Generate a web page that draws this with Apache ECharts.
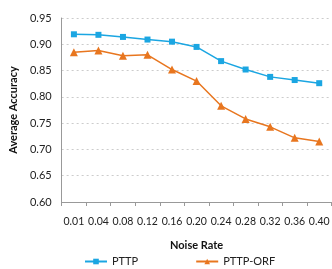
<!DOCTYPE html>
<html>
<head>
<meta charset="utf-8">
<script src="https://cdn.jsdelivr.net/npm/echarts@6/dist/echarts.min.js"></script>
<style>
html,body{margin:0;padding:0;background:#fff;}
#chart{width:332px;height:269px;}
</style>
</head>
<body>
<div id="chart"></div>
<script>
var noiseRates = ['0.01', '0.04', '0.08', '0.12', '0.16', '0.20', '0.24', '0.28', '0.32', '0.36', '0.40'];
var pttp = [0.919, 0.918, 0.914, 0.909, 0.905, 0.895, 0.868, 0.852, 0.838, 0.832, 0.826];
var pttpOrf = [0.885, 0.888, 0.878, 0.880, 0.852, 0.830, 0.783, 0.758, 0.743, 0.722, 0.715];
var yTicks = [0.60, 0.65, 0.70, 0.75, 0.80, 0.85, 0.90, 0.95];

var font = 'Lato, "Open Sans", sans-serif';
var myChart = echarts.init(document.getElementById('chart'));
var option = {
    animation: false,
    textStyle: { fontFamily: font },
    grid: { left: 58, top: 18, width: 283, height: 184 },
    legend: {
        top: 256,
        left: 84,
        padding: 0,
        itemGap: 57,
        itemWidth: 22,
        itemHeight: 7,
        textStyle: { fontSize: 11, color: '#222', fontFamily: font },
        data: ['PTTP', 'PTTP-ORF']
    },
    xAxis: {
        type: 'category',
        data: noiseRates,
        name: 'Noise Rate',
        nameLocation: 'middle',
        nameGap: 38,
        nameTextStyle: { fontWeight: 'bold', fontSize: 11, color: '#111', fontFamily: font },
        axisLine: { lineStyle: { color: '#999' } },
        axisTick: { show: true, length: 4, lineStyle: { color: '#999' } },
        axisLabel: { interval: 0, fontSize: 10.5, color: '#222', margin: 14 }
    },
    yAxis: {
        type: 'value',
        min: yTicks[0],
        max: yTicks[yTicks.length - 1],
        interval: 0.05,
        name: 'Average Accuracy',
        nameLocation: 'middle',
        nameGap: 42,
        nameTextStyle: { fontWeight: 'bold', fontSize: 11, color: '#111', fontFamily: font },
        axisLine: { show: true, lineStyle: { color: '#999' } },
        axisTick: { show: false },
        axisLabel: { fontSize: 11, color: '#222', margin: 10, formatter: function (v) { return v.toFixed(2); } },
        splitLine: { lineStyle: { color: '#ccc', type: [2, 3] } }
    },
    series: [{
        name: 'PTTP',
        type: 'line',
        data: pttp,
        symbol: 'rect',
        symbolSize: 6,
        itemStyle: { color: '#1ba6e2' },
        lineStyle: { color: '#1ba6e2', width: 1.5 }
    }, {
        name: 'PTTP-ORF',
        type: 'line',
        data: pttpOrf,
        symbol: 'triangle',
        symbolSize: 8,
        itemStyle: { color: '#e8761f' },
        lineStyle: { color: '#e8761f', width: 1.5 }
    }]
};
myChart.setOption(option);
</script>
</body>
</html>
